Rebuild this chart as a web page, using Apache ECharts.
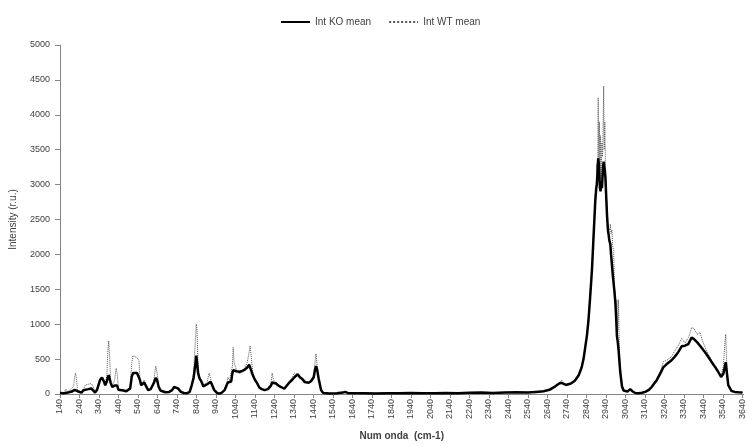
<!DOCTYPE html>
<html>
<head>
<meta charset="utf-8">
<script src="https://cdn.jsdelivr.net/npm/echarts@6/dist/echarts.min.js"></script>
<style>
  html, body { margin: 0; padding: 0; background: #fff; }
  #chart { width: 747px; height: 446px; }
</style>
</head>
<body>
<div id="chart"></div>
<script>
// Raman spectrum: wavenumber (cm-1) and mean intensities for KO and WT
const wavenumber = [
  140,150,160,170,180,190,200,210,215,220,225,230,240,250,260,270,285,300,310,320,
  330,345,355,365,372,380,385,390,395,400,408,420,428,433,440,450,465,480,490,500,
  508,515,525,535,545,550,556,565,571,580,592,605,620,631,638,645,655,665,680,700,
  715,725,733,745,760,775,790,805,815,825,833,839,843,848,856,865,875,885,895,905,
  912,920,930,945,958,970,984,995,1001,1010,1018,1024,1028,1033,1045,1060,1075,1088,1100,1110,
  1115,1120,1129,1140,1150,1163,1175,1189,1206,1215,1222,1228,1235,1248,1260,1274,1290,1300,1316,1330,
  1342,1350,1359,1370,1384,1395,1402,1415,1427,1441,1448,1453,1458,1466,1479,1490,1500,1520,1560,1590,
  1603,1615,1660,1700,1760,1820,1880,1940,2000,2060,2120,2180,2240,2300,2360,2420,2480,2540,2580,2620,
  2650,2680,2700,2712,2720,2735,2760,2780,2800,2815,2825,2842,2850,2859,2868,2876,2885,2890,2893,2897,
  2900,2903,2906,2909,2912,2915,2919,2922,2925,2928,2931,2934,2937,2940,2945,2950,2953,2957,2960,2962,
  2966,2970,2975,2979,2984,2988,2992,2996,3000,3004,3008,3013,3022,3030,3039,3050,3064,3075,3090,3107,
  3125,3141,3160,3175,3190,3200,3218,3235,3250,3260,3275,3286,3300,3312,3328,3345,3362,3372,3379,3390,
  3396,3408,3422,3435,3448,3465,3482,3500,3516,3530,3542,3550,3554,3558,3567,3584,3600,3618,3640
];

const intKO = [
  15,25,10,30,20,45,35,55,60,70,65,40,30,20,55,75,70,80,75,20,
  60,200,235,180,125,180,240,270,250,160,100,120,130,120,60,45,50,40,30,80,
  250,300,305,300,290,200,125,150,165,120,55,70,150,230,200,110,50,30,25,30,
  55,100,120,80,30,15,10,30,120,230,400,550,450,300,220,180,110,90,140,165,
  175,130,60,15,5,20,55,130,165,170,180,300,340,330,325,320,330,350,380,420,
  433,400,268,200,160,90,70,55,70,60,120,165,160,150,120,100,75,70,165,200,
  240,255,283,240,210,170,150,160,183,240,350,400,360,225,55,15,5,8,10,20,
  30,15,10,12,8,12,10,14,10,12,15,10,18,22,15,20,25,20,30,40,
  60,110,150,160,140,130,150,190,268,380,504,833,1050,1398,1780,2245,2763,2950,3000,3200,
  3375,3300,3150,2950,2904,3000,2950,3100,3250,3328,3350,3200,3100,2900,2574,2350,2292,2200,2180,2150,
  2000,1868,1700,1586,1450,1303,1100,833,750,645,500,315,110,50,40,35,70,40,15,10,
  18,30,60,103,160,198,292,386,425,447,480,513,560,607,683,692,715,770,810,790,
  763,740,692,645,598,530,456,385,315,245,290,400,456,350,127,42,30,25,20
];

const intWT = [
  20,30,15,70,25,60,40,110,250,300,200,60,35,25,70,130,140,150,110,25,
  70,210,240,190,140,260,600,760,500,170,110,200,370,300,70,55,55,50,35,100,
  450,550,530,520,480,220,130,160,200,130,60,75,180,400,300,120,55,35,30,35,
  60,105,125,85,35,20,12,35,130,300,700,1000,900,400,240,200,120,100,180,300,
  280,140,65,20,8,25,60,160,240,190,190,400,668,450,340,290,320,380,450,600,
  692,550,300,220,200,95,75,60,75,65,150,300,200,160,130,105,80,75,175,230,
  300,290,270,260,215,190,200,170,190,260,450,575,420,240,60,20,8,10,12,22,
  35,18,12,10,10,14,8,12,12,10,14,12,15,18,14,18,22,24,28,38,
  65,120,160,200,150,135,155,195,275,400,520,850,1100,1450,1850,2300,2850,3000,3300,3050,
  4246,3100,3900,3200,3700,3100,3600,3400,3800,4410,3500,3900,3300,3000,2600,2300,2380,2400,2350,2433,
  2300,2350,2100,2060,1500,1350,1150,1351,900,1350,700,330,120,55,45,40,75,45,18,12,
  20,32,65,110,170,215,320,466,480,480,530,588,650,701,795,730,805,880,950,940,
  930,855,880,760,668,570,480,395,320,260,400,750,857,500,140,45,32,28,22
];

const xTickLabels = [];
for (let v = 140; v <= 3640; v += 100) xTickLabels.push(v);

const koData = wavenumber.map((w, i) => [w, intKO[i]]);
const wtData = wavenumber.map((w, i) => [w, intWT[i]]);

const axisColor = '#868686';
const textColor = '#404040';
const font = 'Liberation Sans';
const plain = v => String(v);

const chart = echarts.init(document.getElementById('chart'), null, { renderer: 'canvas' });
chart.setOption({
  animation: false,
  backgroundColor: '#ffffff',
  textStyle: { fontFamily: font, color: textColor },
  legend: {
    top: 12,
    left: 275,
    itemWidth: 29,
    itemHeight: 8,
    itemGap: 17,
    itemStyle: { opacity: 0 },
    textStyle: { fontFamily: font, fontSize: 10, color: textColor },
    data: ['Int KO mean', 'Int WT mean']
  },
  grid: { left: 60, right: 2, top: 45, bottom: 47, containLabel: false },
  xAxis: {
    type: 'value',
    min: 140,
    max: 3645,
    name: 'Num onda  (cm-1)',
    nameLocation: 'middle',
    nameGap: 37,
    nameTextStyle: { fontFamily: font, fontSize: 10, fontWeight: 'bold', color: textColor },
    splitLine: { show: false },
    axisLine: { show: true, onZero: false, lineStyle: { color: axisColor, width: 1 } },
    axisTick: { show: true, length: 4, lineStyle: { color: axisColor }, customValues: xTickLabels },
    axisLabel: {
      customValues: xTickLabels,
      formatter: plain,
      rotate: 90,
      fontSize: 9,
      color: textColor,
      fontFamily: font,
      margin: 5
    }
  },
  yAxis: {
    type: 'value',
    min: 0,
    max: 5000,
    interval: 500,
    name: 'Intensity (r.u.)',
    nameLocation: 'middle',
    nameGap: 42,
    nameTextStyle: { fontFamily: font, fontSize: 10, color: textColor },
    splitLine: { show: false },
    axisLine: { show: true, lineStyle: { color: axisColor, width: 1 } },
    axisTick: { show: true, length: 5, lineStyle: { color: axisColor } },
    axisLabel: { formatter: plain, fontSize: 9, color: textColor, fontFamily: font, margin: 10 }
  },
  series: [
    {
      name: 'Int WT mean',
      type: 'line',
      data: wtData,
      symbol: 'none',
      z: 2,
      lineStyle: { color: '#555555', width: 1, type: 'dotted' },
      itemStyle: { color: '#555555' }
    },
    {
      name: 'Int KO mean',
      type: 'line',
      data: koData,
      symbol: 'none',
      z: 3,
      lineStyle: { color: '#000000', width: 2.5 },
      itemStyle: { color: '#000000' }
    }
  ]
});
</script>
</body>
</html>
